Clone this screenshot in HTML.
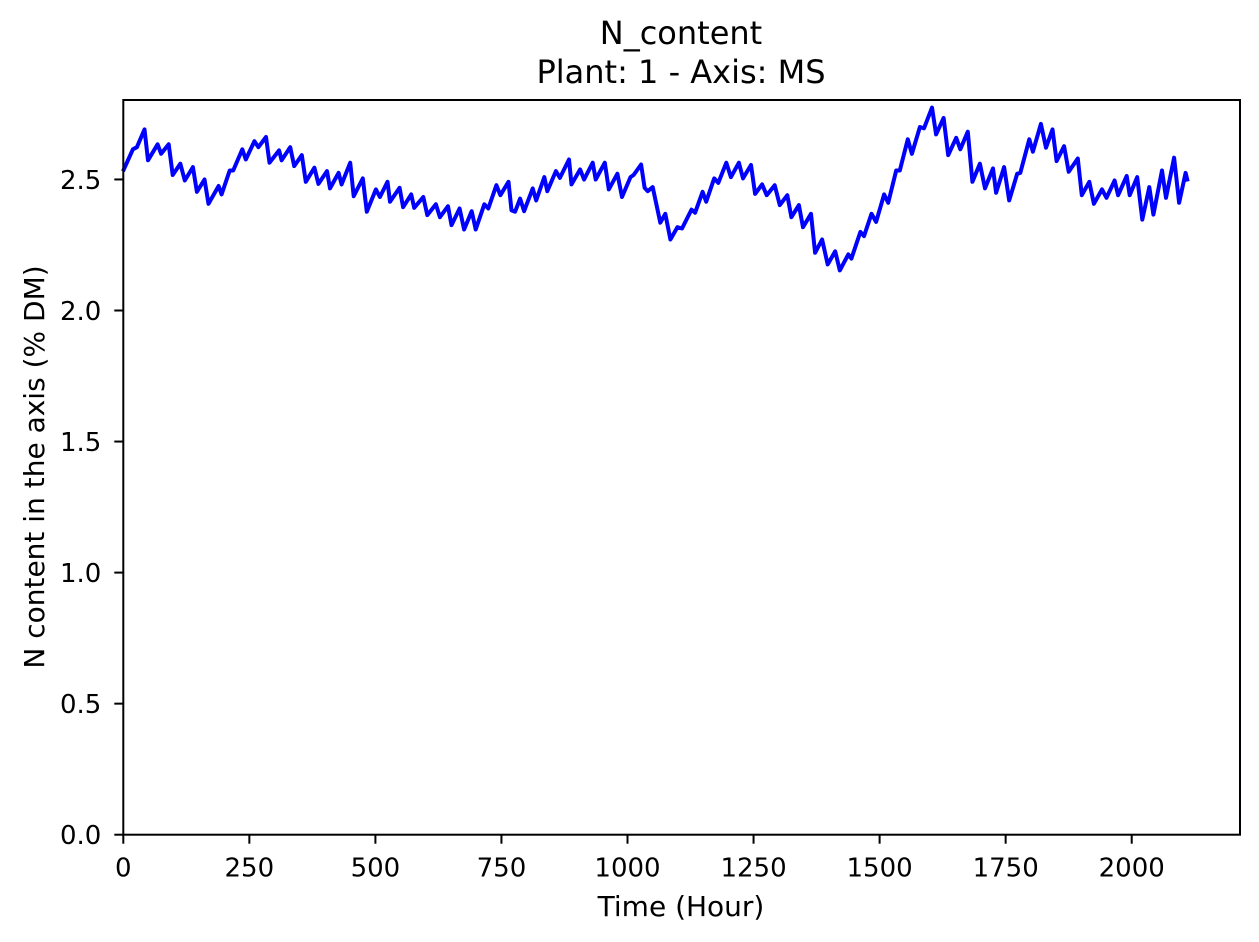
<!DOCTYPE html>
<html><head><meta charset="utf-8"><style>
html,body{margin:0;padding:0;background:#fff}
svg{display:block;font-family:"DejaVu Sans","Liberation Sans",sans-serif}
</style></head><body>
<svg id="chart" width="1259" height="942" viewBox="0 0 1259 942">
<rect width="1259" height="942" fill="#fff"/>
<text x="681" y="44" text-anchor="middle" font-size="32">N_content</text>
<text x="681" y="83" text-anchor="middle" font-size="32">Plant: 1 - Axis: MS</text>
<g id="xticks"></g>
<g id="yticks"></g>
<g id="series"></g>
<rect x="123.3" y="100" width="1116.7" height="734.7" fill="none" stroke="#000" stroke-width="2"/>
<text x="681" y="916" text-anchor="middle" font-size="28">Time (Hour)</text>
<text transform="translate(44,467) rotate(-90)" text-anchor="middle" font-size="28">N content in the axis (% DM)</text>
</svg>
<script>
const times = [1,19,27,42,49,68,75,90,98,113,122,138,146,161,169,189,195,211,218,236,243,260,268,283,290,309,314,331,339,354,362,379,387,404,410,427,433,450,457,475,483,501,509,524,529,548,555,571,577,595,603,620,628,644,651,667,676,691,699,716,724,740,748,764,770,777,787,795,812,819,835,841,858,866,884,889,906,914,931,937,955,963,980,989,1006,1012,1027,1034,1040,1050,
1065,1075,1085,1099,1108,1127,1134,1149,1156,1172,1180,1196,1205,1221,1229,1245,1253,1267,1276,1292,1302,1317,1325,1340,1348,1364,1372,1386,1397,1412,1421,1438,1444,1462,1469,1484,1493,1509,1517,1533,1540,1556,1564,1580,1588,1604,1612,1627,1636,1652,1660,1675,1684,1699,1709,1725,1731,1747,1757,1773,1779,1797,1804,1820,1830,1843,1851,1866,1875,1893,1901,1916,1925,1941,1950,1966,1973,1990,1996,2011,2021,2035,2043,2060,2068,2084,2094,2107,2110];
const nContent = [2.538,2.615,2.623,2.691,2.573,2.634,2.598,2.634,2.517,2.560,2.496,2.547,2.453,2.500,2.407,2.475,2.443,2.534,2.534,2.615,2.576,2.646,2.623,2.662,2.564,2.611,2.573,2.623,2.551,2.593,2.491,2.545,2.483,2.532,2.466,2.525,2.481,2.564,2.436,2.504,2.377,2.462,2.433,2.491,2.415,2.468,2.394,2.443,2.392,2.433,2.364,2.405,2.356,2.398,2.326,2.389,2.309,2.379,2.309,2.405,2.389,2.478,2.440,2.491,2.382,2.377,2.427,2.379,2.466,2.420,2.509,2.455,2.532,2.506,2.576,2.481,2.538,2.500,2.564,2.500,2.564,2.462,2.522,2.433,2.509,2.517,2.557,2.468,2.455,2.471,
2.335,2.369,2.271,2.318,2.313,2.385,2.373,2.453,2.415,2.504,2.487,2.564,2.509,2.564,2.504,2.555,2.445,2.481,2.440,2.478,2.402,2.440,2.356,2.402,2.318,2.369,2.220,2.271,2.176,2.226,2.153,2.214,2.198,2.300,2.284,2.369,2.338,2.443,2.411,2.534,2.534,2.653,2.598,2.700,2.695,2.774,2.672,2.735,2.593,2.659,2.615,2.682,2.491,2.560,2.466,2.542,2.449,2.547,2.420,2.522,2.525,2.653,2.606,2.712,2.621,2.691,2.570,2.627,2.529,2.580,2.440,2.491,2.407,2.462,2.430,2.496,2.440,2.513,2.440,2.509,2.347,2.471,2.366,2.534,2.430,2.583,2.411,2.525,2.500];
const xTickValues = [0,250,500,750,1000,1250,1500,1750,2000];
const yTickValues = [0.0,0.5,1.0,1.5,2.0,2.5];
const yTickLabels = ["0.0","0.5","1.0","1.5","2.0","2.5"];

const NS = "http://www.w3.org/2000/svg";
const X0 = 123.3, XS = 0.5042, Y0 = 834.7, YS = 262.1;
function xScale(t){ return X0 + t * XS; }
function yScale(v){ return Y0 - v * YS; }
function mk(tag, attrs){ const e = document.createElementNS(NS, tag); for (const k in attrs) e.setAttribute(k, attrs[k]); return e; }

const gx = document.getElementById('xticks');
xTickValues.forEach(function(t){
  const x = xScale(t);
  const tick = mk('line', {x1:x, x2:x, y1:Y0, y2:Y0+9, stroke:'#000', 'stroke-width':2});
  
  
  gx.appendChild(tick);
  const lab = mk('text', {x:x, y:Y0+42, 'text-anchor':'middle', 'font-size':26});
  
  
  lab.textContent = String(t);
  gx.appendChild(lab);
});
const gy = document.getElementById('yticks');
yTickValues.forEach(function(v, i){
  const y = yScale(v);
  const tick = mk('line', {x1:X0-9, x2:X0, y1:y, y2:y, stroke:'#000', 'stroke-width':2});
  
  
  gy.appendChild(tick);
  const lab = mk('text', {x:X0-22, y:y+9.5, 'text-anchor':'end', 'font-size':26});
  
  
  lab.textContent = yTickLabels[i];
  gy.appendChild(lab);
});
const pts = times.map(function(t, i){ return xScale(t).toFixed(1) + ',' + yScale(nContent[i]).toFixed(1); }).join(' ');
const line = mk('polyline', {points:pts, fill:'none', stroke:'#0000ff', 'stroke-width':4, 'stroke-linejoin':'round', 'stroke-linecap':'square'});


document.getElementById('series').appendChild(line);
</script>
</body></html>
